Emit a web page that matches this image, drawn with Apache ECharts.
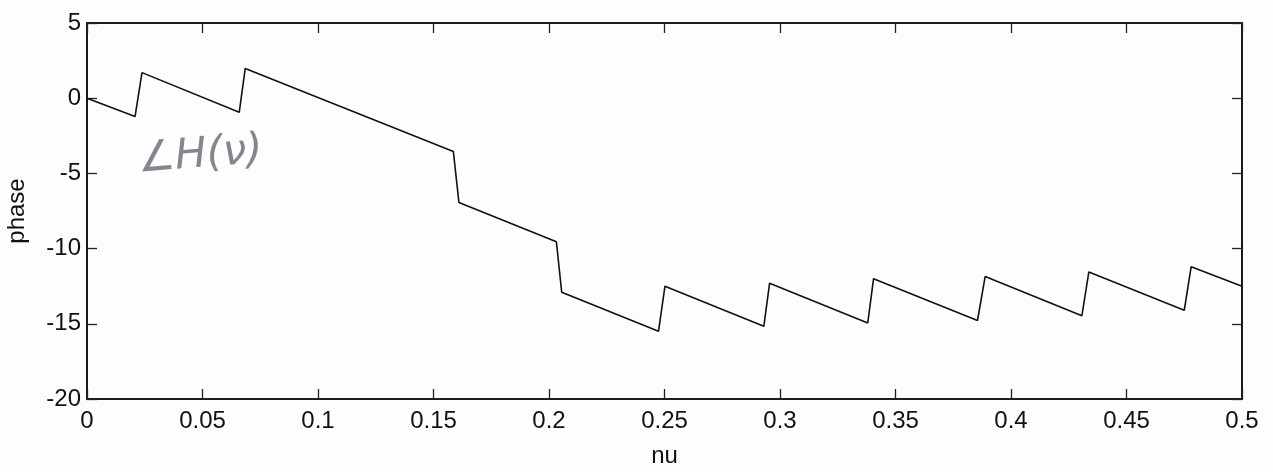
<!DOCTYPE html>
<html>
<head>
<meta charset="utf-8">
<script src="https://cdn.jsdelivr.net/npm/echarts@6/dist/echarts.min.js"></script>
<style>
html,body{margin:0;padding:0;background:#fcfdfc;}
#c{width:1273px;height:472px;}
</style>
</head>
<body>
<div id="c"></div>
<script>
const nu =    [0, 0.0208, 0.0238, 0.0659, 0.0685, 0.1586, 0.161, 0.2032, 0.2055, 0.2474, 0.2502, 0.2930, 0.2955, 0.3380, 0.3405, 0.3855, 0.3888, 0.4307, 0.4337, 0.4750, 0.4780, 0.5];
const phase = [0, -1.22, 1.70, -0.94, 1.98, -3.55, -6.93, -9.55, -12.9, -15.5, -12.5, -15.17, -12.3, -14.94, -12.0, -14.78, -11.86, -14.46, -11.55, -14.1, -11.2, -12.5];
const xTicks = {min: 0, max: 0.5, interval: 0.05};
const yTicks = {min: -20, max: 5, interval: 5};
const xName = 'nu';
const yName = 'phase';
const note = '∠H(ν)';

const chart = echarts.init(document.getElementById('c'));
const font = 'Liberation Sans, Arial, Helvetica, sans-serif';
const lbl = {color:'#111', fontSize:24, fontFamily:font};
const tick = {show:true, inside:true, length:10, lineStyle:{color:'#222', width:1.3}};
const line = {show:true, onZero:false, lineStyle:{color:'#111', width:1.6}};
option = {
  backgroundColor:'#fcfdfc',
  animation:false,
  grid:{left:87, right:31, top:23, bottom:73, containLabel:false, outerBoundsMode:'none',
        show:true, borderColor:'#111', borderWidth:1.6, backgroundColor:'transparent'},
  xAxis:[{
    type:'value', min:xTicks.min, max:xTicks.max, interval:xTicks.interval,
    axisLine:line, axisTick:tick, splitLine:{show:false},
    axisLabel:Object.assign({margin:10, formatter:v=>String(+v.toFixed(2))}, lbl),
    name:xName, nameLocation:'middle', nameGap:45, nameTextStyle:{color:'#111', fontSize:24, fontFamily:font}
  },{
    type:'value', position:'top', min:xTicks.min, max:xTicks.max, interval:xTicks.interval,
    axisLine:line, axisTick:tick, axisLabel:{show:false}, splitLine:{show:false}
  }],
  yAxis:[{
    type:'value', min:yTicks.min, max:yTicks.max, interval:yTicks.interval,
    axisLine:line, axisTick:tick, splitLine:{show:false},
    axisLabel:Object.assign({margin:6}, lbl),
    name:yName, nameLocation:'middle', nameGap:58, nameTextStyle:{color:'#111', fontSize:24, fontFamily:font}
  },{
    type:'value', position:'right', min:yTicks.min, max:yTicks.max, interval:yTicks.interval,
    axisLine:line, axisTick:tick, axisLabel:{show:false}, splitLine:{show:false}
  }],
  graphic:[{
    type:'text', left:136, top:130, rotation:0.08,
    style:{text:note, fill:'#85858f', font:'italic 42px "DejaVu Sans", sans-serif'}
  }],
  series:[{
    type:'line', data:nu.map((x,i)=>[x, phase[i]]), showSymbol:false,
    lineStyle:{color:'#111', width:1.6}, z:5
  }]
};
chart.setOption(option);
</script>
</body>
</html>
